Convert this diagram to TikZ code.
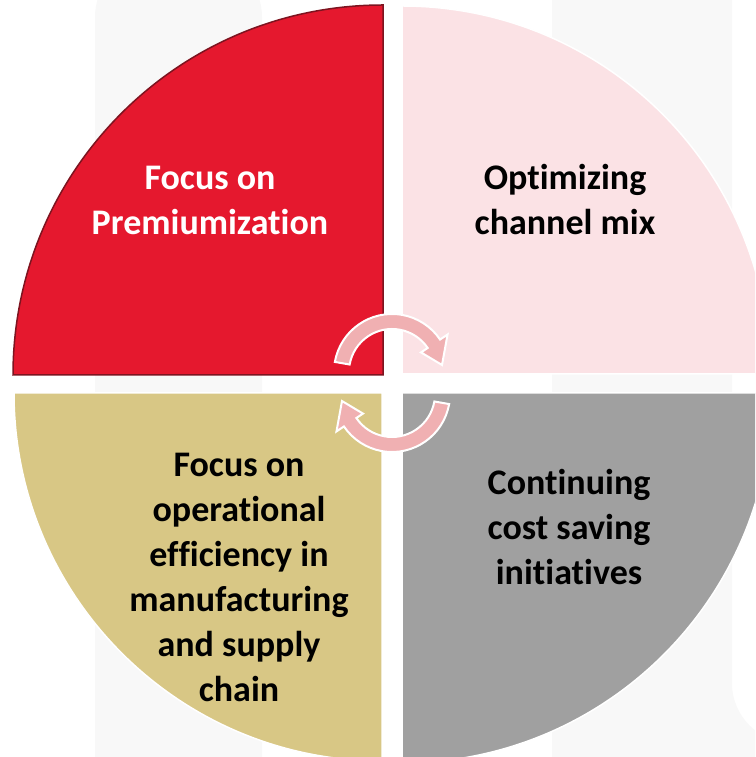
\documentclass[tikz,border=0pt]{standalone}
\usepackage{fontspec}
\setmainfont{Carlito}[Ligatures={NoCommon,NoContextual}]
\definecolor{premred}{RGB}{229,24,46}
\definecolor{premedge}{RGB}{125,20,32}
\definecolor{mixpink}{RGB}{251,226,229}
\definecolor{opstan}{RGB}{216,199,133}
\definecolor{costgray}{RGB}{160,160,160}
\definecolor{cyclepink}{RGB}{240,176,178}
\definecolor{wmgray}{RGB}{248,248,248}
\begin{document}
\begin{tikzpicture}[x=1pt,y=1pt,
  quad/.style={line width=1.5pt, draw=white},
  label/.style={font=\bfseries\fontsize{36}{45}\selectfont, align=center, inner sep=0pt, anchor=base},
  cycle arrow/.style={fill=cyclepink, draw=white, line width=2pt, line join=miter}]
\useasboundingbox (0,0) rectangle (755,757);
\begin{scope}
\clip (0,0) rectangle (755,757);
% faint background shapes
\fill[wmgray, rounded corners=60pt] (95,-60) rectangle (262,800);
\fill[wmgray] (552,-10) -- (552,800) -- (732,800) -- (732,74)
  arc[start angle=180, end angle=270, radius=60] -- (800,14) -- (800,-10) -- cycle;
% the four quadrants
\draw[quad, fill=premred, draw=premedge] (383,382) -- (13,382)
  arc[start angle=180, end angle=90, radius=370] -- cycle;
\draw[quad, fill=mixpink] (402,383) -- (402,751)
  arc[start angle=90, end angle=0, radius=368] -- cycle;
\draw[quad, fill=opstan] (382,364) -- (14,364)
  arc[start angle=180, end angle=270, radius=368] -- cycle;
\draw[quad, fill=costgray] (402,364) -- (772,364)
  arc[start angle=0, end angle=-90, radius=370] -- cycle;
% circular arrows in the middle
\begin{scope}[shift={(392,385)}]
  \draw[cycle arrow] (170:58) arc[start angle=170, end angle=34, radius=58]
    -- (34:67) -- (8:50.5) -- (34:35) -- (34:43)
    arc[start angle=34, end angle=170, radius=43] -- cycle;
\end{scope}
\begin{scope}[shift={(392,363)}]
  \draw[cycle arrow] (350:58) arc[start angle=350, end angle=214, radius=58]
    -- (214:67) -- (188:50.5) -- (214:35) -- (214:43)
    arc[start angle=214, end angle=350, radius=43] -- cycle;
\end{scope}
\end{scope}
% labels (anchored at the baseline of the last line)
\node[label, text=white] (prem) at (210,522) {Focus on\\Premiumization};
\node[label] (chan) at (565,522) {Optimizing\\channel mix};
\node[label] (cost) at (569,172) {Continuing\\cost saving\\initiatives};
\node[label] (ops) at (239,55) {Focus on\\operational\\efficiency in\\manufacturing\\and supply\\chain};
\end{tikzpicture}
\end{document}
